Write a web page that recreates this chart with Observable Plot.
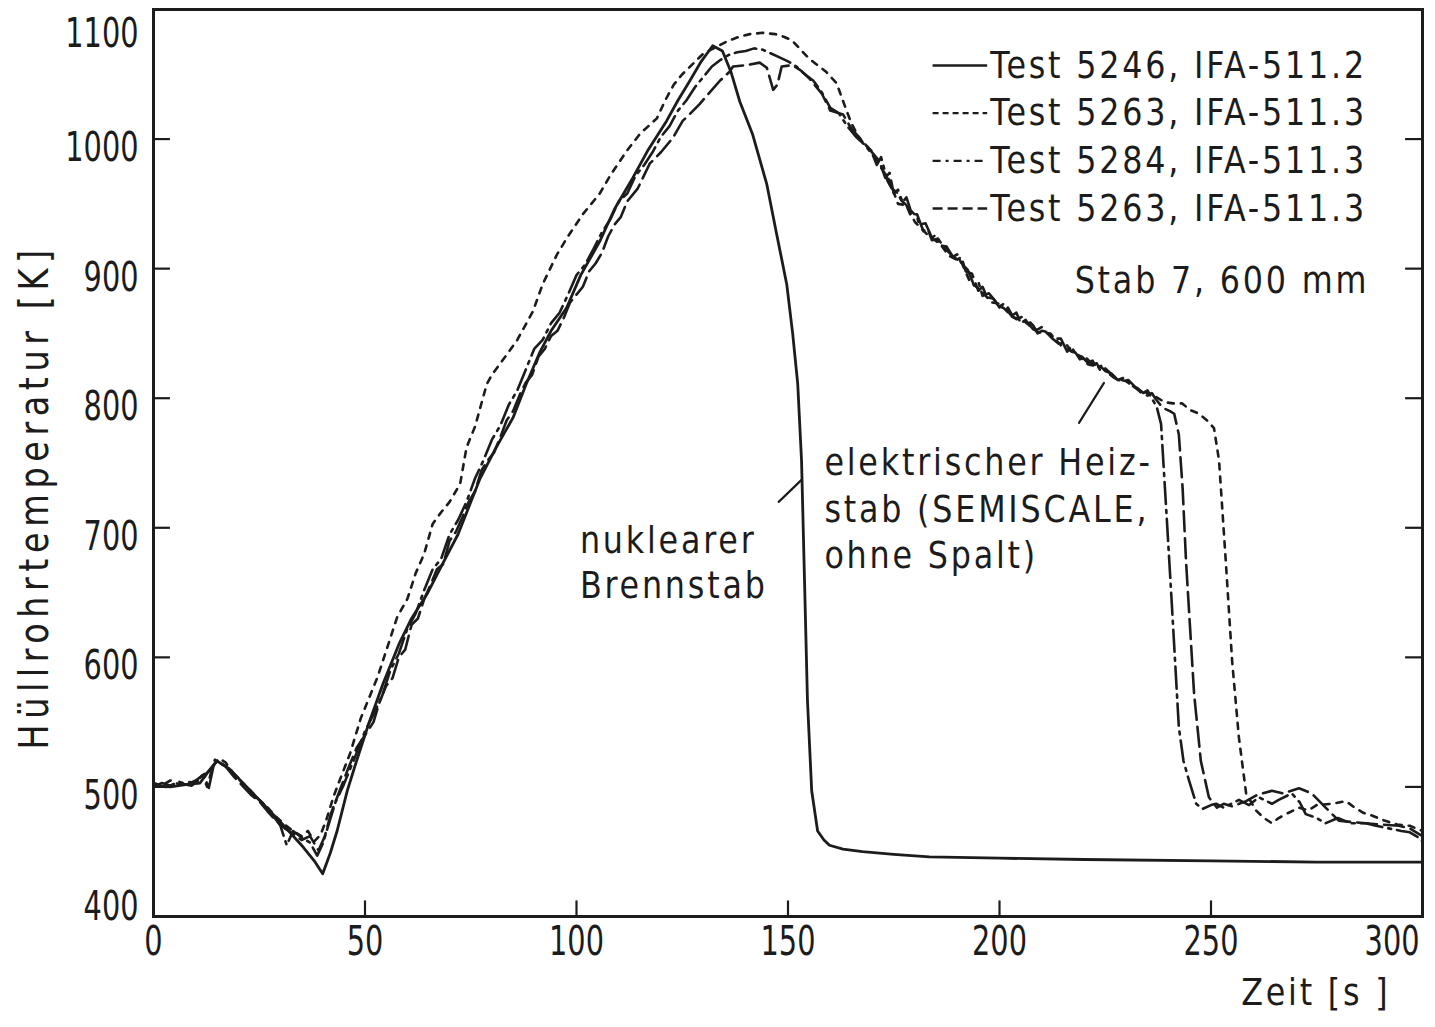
<!DOCTYPE html>
<html><head><meta charset="utf-8">
<script src="https://cdn.jsdelivr.net/npm/d3@7"></script>
<script src="https://cdn.jsdelivr.net/npm/@observablehq/plot@0.6"></script>
<style>body{margin:0;background:#fff} svg{display:block}</style>
</head><body><div id="chart"></div>
<script>
// ---- data ----
const xTicks = [0, 50, 100, 150, 200, 250, 300];
const yTicks = [400, 500, 600, 700, 800, 900, 1000, 1100];

const seriesNames = ["Test 5246, IFA-511.2", "Test 5263, IFA-511.3", "Test 5284, IFA-511.3", "Test 5263, IFA-511.3"];

// Test 5246 (nuklearer Brennstab), [time s, temperature K]
const test5246 = [[0,501],[4,500],[8,502],[11,503],[13,512],[15,520],[17,516],[20,507],[25,490],[30,473],[35,455],[38,443],[40,433],[41.8,449],[43.4,466],[45.8,497],[48,520],[51,550],[54.3,580],[58,610],[61,630],[64.7,649],[68,670],[72,695],[77.2,738],[81,762],[85,785],[88,810],[91.4,836],[94,852],[97.7,870],[101,895],[105.5,921],[109,946],[113.3,970],[117,992],[121.3,1014],[124,1030],[126.8,1045],[129.5,1060],[132.2,1072],[134.5,1068],[136.5,1052],[138.6,1029],[141.6,1004],[145,965],[147.3,927],[149.7,888],[151.1,850],[152.3,811],[153.2,752],[153.9,660],[154.6,567],[155.6,497],[157,466],[158.5,459],[159.8,455],[163,452],[167.6,450],[175,448],[183.4,446],[200,445],[220,444],[250,443],[275,442],[300,442]];

// Test 5263 (short dashes)
const test5263a = [[0,503],[2,501],[4,505],[6,502],[8,504],[10,503],[11.5,509],[12.7,500],[14,516],[15.5,522],[17,519],[19,510],[21,503],[23,497],[25,490],[27,484],[29,477],[31,471],[33,466],[35,462],[36.5,466],[38,458],[39.5,463],[41,476],[42.5,492],[44,505],[46.5,526],[49,553],[53,585],[57.6,631],[60,645],[62,665],[64,680],[66,703],[68,712],[70,720],[72.5,734],[74,762],[76,778],[78.8,811],[80,818],[82,827],[83.6,834],[86,845],[89.7,867],[92,888],[95.4,911],[98,925],[101.5,942],[103.5,950],[105.5,958],[108,972],[111.9,991],[115,1004],[117,1010],[119,1016],[121,1030],[123,1042],[125,1050],[127.5,1058],[130,1066],[133,1071],[136,1076],[138.5,1079],[141,1081],[144,1082],[147,1081],[149,1079],[151,1076],[153,1069],[155,1062],[157,1057],[159,1052],[161.5,1043],[163.5,1025],[165,1012],[167,1000],[170,990],[172,978],[174,968],[176,950],[178,949],[180,936],[183,926],[186,919],[188,910],[191,905],[193,890],[196,882],[198,874],[200,873],[203,863],[206,859],[209,851],[212,850],[215,839],[218,835],[221,826],[224,824],[227,816],[230,813],[233,806],[236,803],[239,797],[241,796],[243.2,796],[245,791],[247.2,788],[249,783],[250.7,777],[251.9,752],[253.5,674],[255,597],[256.6,538],[258.3,495],[260.6,482],[262.5,476],[264.4,472],[266,476],[267.7,479],[270.8,484],[273,482],[275,486],[278.6,487],[281.9,489],[284,484],[286,480],[288,478],[291,474],[294,471],[297,470],[300,466]];

// Test 5284 (dash-dot)
const test5284 = [[0,500],[2,503],[4,501],[6,504],[8,502],[10,505],[12,510],[13,498],[14.5,521],[16,518],[18,514],[20,507],[22,500],[24,493],[26,487],[28,479],[30,470],[31.5,455],[33,466],[35,461],[37,457],[38.7,447],[40,456],[41.5,472],[43,488],[45,502],[47.5,522],[50,543],[52,556],[54,570],[56,590],[58,603],[60,622],[62,634],[64,652],[66,668],[68,676],[70,695],[72,706],[74,720],[76,738],[78,752],[80,768],[82,779],[84,795],[86,806],[88,822],[90,838],[92,845],[94,858],[96,866],[98,880],[100,895],[102,903],[104,915],[106,928],[108,938],[110,952],[112,958],[114,972],[116,980],[118,990],[120,1002],[122,1010],[124,1022],[126,1030],[128,1040],[130,1048],[132,1056],[134,1061],[136,1065],[138,1067],[140,1068],[142,1070],[144,1069],[146,1066],[148,1063],[150,1060],[152,1056],[154,1050],[156,1045],[158,1036],[160,1024],[162,1020],[164,1010],[166,1002],[168,996],[170,988],[171,980],[172,986],[173.5,968],[174.5,962],[176,958],[177,951],[178,955],[179,945],[180.5,940],[181,934],[182.5,935],[184,924],[185,926],[186,918],[187.5,917],[189,909],[190,911],[191,904],[192.5,899],[194,887],[195,890],[196,879],[197.5,881],[199,875],[200,872],[201,869],[202,870],[203,864],[204,866],[205,858],[206.5,861],[208,856],[209,850],[210,852],[211.5,851],[213,846],[214.5,846],[216,836],[217,840],[218,834],[219.5,832],[221,827],[222,829],[223,823],[224,825],[225,821],[226.5,819],[228,814],[229.5,816],[231,810],[232.5,808],[234,804],[235,806],[236,800],[237.2,793],[238.2,780],[239.4,715],[240.6,649],[242.4,546],[243.5,520],[244.8,505],[246.5,487],[248,483],[250,486],[251.2,487],[253,484],[256.6,490],[259,486],[261.3,492],[264.4,487],[266,490],[269.1,495],[271,488],[272.4,479],[275,476],[277.1,472],[280,476],[283,472],[286.6,472],[289,470],[292,468],[295,466],[297,465],[299,461],[300,458]];

// Test 5263 (long dashes)
const test5263b = [[0,502],[3,500],[6,503],[9,501],[11,506],[13,512],[15,520],[17,516],[19,508],[21,501],[23,494],[25,489],[27,481],[29,474],[31,468],[33,464],[35,459],[37,462],[39,451],[40.5,462],[42,480],[44,497],[46,514],[48,530],[50,540],[52,550],[53.5,566],[55,578],[56.5,584],[58,600],[59.5,606],[61,625],[62.5,630],[64,645],[65.5,656],[67,668],[68.5,672],[70,690],[71.5,697],[73,708],[74.5,720],[76,728],[77.5,744],[79,752],[80.5,758],[82,770],[83.5,783],[85,790],[86.5,802],[88,812],[89.5,818],[91,832],[92.5,838],[94,848],[95.5,852],[97,862],[98.5,874],[100,880],[101.5,886],[103,898],[104.5,904],[106,912],[107.5,925],[109,934],[110.5,940],[112,952],[114.5,962],[117.3,981],[120,990],[122.8,1001],[125.1,1014],[127,1020],[129.1,1027],[131.5,1036],[133.9,1045],[136.2,1052],[137,1056],[140,1057],[143.3,1059],[145,1055],[146.5,1038],[147.5,1042],[148.5,1056],[151,1057],[153,1053],[155,1047],[158,1035],[160,1022],[163,1019],[165,1008],[168,997],[171.6,983],[173,970],[174,974],[175,958],[176,961],[177,952],[178,949],[179,941],[180.5,942],[182,929],[183,931],[184,922],[185.5,923],[187,916],[188.5,911],[190,907],[191,909],[192,898],[193.5,896],[195,883],[196,886],[197,878],[198.5,877],[200,870],[201,873],[202,867],[203,863],[204,861],[205.5,863],[207,857],[208,853],[209,853],[210,855],[211,851],[212.5,846],[214,842],[215.5,843],[217,836],[218,835],[219,830],[220.5,831],[222,826],[223,827],[224,820],[225,823],[226,820],[227.5,815],[229,813],[230.5,814],[232,809],[233.5,804],[235,802],[236,804],[237,799],[238,795],[239,792],[240.3,790],[241.3,788],[242.4,772],[243.3,730],[244.1,674],[246,572],[247.6,520],[249.5,492],[251.4,484],[253,487],[255,485],[258.3,489],[261,494],[264.4,497],[267,495],[270.8,499],[273.8,495],[277.1,484],[280.2,474],[283,473],[286.6,472],[290,471],[294.4,470],[297,468],[299,464],[300,462]];

const annotNuclear = ["nuklearer", "Brennstab"];
const annotHeater = ["elektrischer Heiz-", "stab (SEMISCALE,", "ohne Spalt)"];
const rodLabel = "Stab 7, 600 mm";
const xTitle = "Zeit [s ]";
const yTitle = "Hüllrohrtemperatur [K]";

// ---- build ----
const INK = "#1c1c1c";
const FONT = '"DejaVu Sans Condensed", "DejaVu Sans", sans-serif';
const seriesData = [test5246, test5263a, test5284, test5263b];
const dashes = [null, "6,7", "22,6,3,6", "20,7"];
const legendDashes = [null, "6,4", "8,5,3,5", "10,5"];
const rows = seriesData.flatMap((s, i) => s.map(([t, T]) => ({t, T, s: i})));

const lineMarks = seriesData.map((s, i) =>
  Plot.line(rows.filter(d => d.s === i), {
    x: "t", y: "T", stroke: INK, strokeWidth: i === 0 ? 2.8 : 2.6,
    strokeDasharray: dashes[i] || undefined, strokeLinejoin: "round"
  }));

const legendRows = seriesNames.map((name, i) => ({name, i, T: 1056.8 - i * 36.8}));

const chart = Plot.plot({
  width: 1435, height: 1027,
  marginLeft: 153, marginRight: 13, marginTop: 9, marginBottom: 111,
  x: {domain: [0, 300], axis: null},
  y: {domain: [400, 1100], axis: null},
  style: {fontFamily: FONT, color: INK, background: "#fff"},
  marks: [
    // inward ticks
    Plot.ruleY(yTicks.filter(v => v > 400 && v < 1100), {x1: 0, x2: 4, stroke: INK, strokeWidth: 2.2}),
    Plot.ruleY(yTicks.filter(v => v > 400 && v < 1100), {x1: 296, x2: 300, stroke: INK, strokeWidth: 2.2}),
    Plot.ruleX(xTicks.filter(v => v > 0 && v < 300), {y1: 400, y2: 412, stroke: INK, strokeWidth: 2.2}),
    Plot.frame({stroke: INK, strokeWidth: 3}),
    // tick labels
    Plot.text(yTicks.filter(v => v > 400 && v < 1100), {y: d => d, text: d => String(d), frameAnchor: "left", dx: -15, dy: 9, textAnchor: "end", fontSize: 41, fill: INK}),
    Plot.text([400], {y: d => d, text: d => String(d), frameAnchor: "left", dx: -15, dy: -10, textAnchor: "end", fontSize: 41, fill: INK}),
    Plot.text([1100], {y: d => d, text: d => String(d), frameAnchor: "left", dx: -15, dy: 24, textAnchor: "end", fontSize: 41, fill: INK}),
    Plot.text(xTicks.filter(v => v < 300), {x: d => d, text: d => String(d), frameAnchor: "bottom", dy: 38, fontSize: 41, fill: INK}),
    Plot.text([300], {x: d => d, text: d => String(d), frameAnchor: "bottom", dx: -3, dy: 38, textAnchor: "end", fontSize: 41, fill: INK}),
    // axis titles
    Plot.text([xTitle], {text: d => d, frameAnchor: "bottom-right", dx: -32, dy: 88, textAnchor: "end", fontSize: 38, fill: INK}),
    Plot.text([yTitle], {text: d => d, frameAnchor: "left", dx: -118, dy: 34, rotate: -90, textAnchor: "middle", fontSize: 40, fill: INK}),
    // curves
    ...lineMarks,
    // legend
    ...legendRows.map(r => Plot.ruleY([r.T], {x1: 184.3, x2: 197.2, stroke: INK, strokeWidth: 2.4, strokeDasharray: legendDashes[r.i] || undefined})),
    Plot.text(legendRows, {x: 197.8, y: "T", text: "name", textAnchor: "start", fontSize: 38, fill: INK}),
    Plot.text([rodLabel], {x: 287.4, y: 890.5, text: d => d, textAnchor: "end", fontSize: 38, fill: INK}),
    // annotations
    Plot.text(annotNuclear, {x: 100.8, y: (d, i) => 690 - i * 35, text: d => d, textAnchor: "start", fontSize: 38, fill: INK}),
    Plot.text(annotHeater, {x: 158.6, y: (d, i) => 750 - i * 36, text: d => d, textAnchor: "start", fontSize: 38, fill: INK}),
    Plot.line([[147.8, 720], [153.2, 737]], {stroke: INK, strokeWidth: 2.2}),
    Plot.line([[218.8, 781], [224.7, 811.8]], {stroke: INK, strokeWidth: 2.2})
  ]
});

// narrow technical lettering: condense glyphs horizontally, widen word lettering
chart.querySelectorAll("text").forEach(t => {
  const isWord = /[A-Za-z]/.test(t.textContent);
  const tr = t.getAttribute("transform") || "";
  if (isWord) {
    t.setAttribute("letter-spacing", t.textContent.startsWith("Hüll") ? "6" : "3");
    t.setAttribute("transform", tr + " scale(0.93,1)");
  } else {
    t.setAttribute("transform", tr + " scale(0.78,1)");
  }
});
document.getElementById("chart").appendChild(chart);
</script>
</body></html>
